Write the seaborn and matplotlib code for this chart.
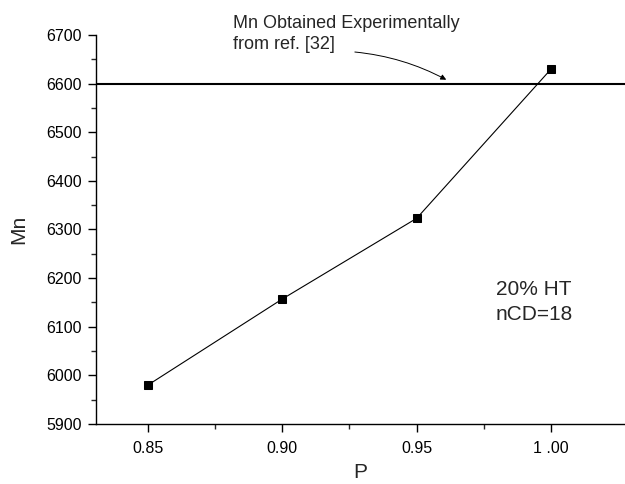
import matplotlib
matplotlib.use("Agg")
import matplotlib.pyplot as plt
import seaborn as sns
import pandas as pd
from matplotlib.ticker import FixedLocator, MultipleLocator

P = [0.85, 0.90, 0.95, 1.00]
Mn = [5980, 6157, 6323, 6630]
Mn_exp = 6600
x_ticks = [0.85, 0.90, 0.95, 1.00]
x_tick_labels = ["0.85", "0.90", "0.95", "1 .00"]
x_minor = [0.875, 0.925, 0.975]
y_ticks = [5900, 6000, 6100, 6200, 6300, 6400, 6500, 6600, 6700]

sns.set_style("ticks")
plt.rcParams['font.family'] = ['Liberation Sans', 'DejaVu Sans']

df = pd.DataFrame({"P": P, "Mn": Mn})
fig = plt.figure(figsize=(6.25, 4.84), dpi=100)
ax = fig.add_axes([0.1536, 0.124, 0.8464, 0.8037])
sns.lineplot(data=df, x="P", y="Mn", ax=ax, color="black", linewidth=0.8,
             marker="s", markersize=6, markeredgecolor="black", markerfacecolor="black")
ax.axhline(Mn_exp, color="black", linewidth=1.5)

ax.set_xlim(0.8307, 1.0275)
ax.set_ylim(5900, 6700)
ax.set_xticks(x_ticks)
ax.set_xticklabels(x_tick_labels)
ax.set_yticks(y_ticks)
ax.xaxis.set_minor_locator(FixedLocator(x_minor))
ax.yaxis.set_minor_locator(MultipleLocator(50))
ax.tick_params(axis="both", which="major", direction="out", length=6, width=1,
               labelsize=11.5, colors="black")
ax.tick_params(axis="y", which="major", pad=4)
ax.tick_params(axis="x", which="major", pad=6)
ax.tick_params(axis="both", which="minor", direction="out", length=3.6, width=1)
for s in ["top", "right"]:
    ax.spines[s].set_visible(False)
for s in ["left", "bottom"]:
    ax.spines[s].set_linewidth(1.0)
    ax.spines[s].set_color("black")

ax.set_xlabel("P", fontsize=15, labelpad=5)
ax.set_ylabel("Mn", fontsize=15, labelpad=13)

ax.text(0.8816, 6742, "Mn Obtained Experimentally\nfrom ref. [32]", fontsize=13,
        ha="left", va="top", linespacing=1.35, clip_on=False)
ax.annotate("", xy=(0.961, 6608), xytext=(0.927, 6665), annotation_clip=False,
            arrowprops=dict(arrowstyle="-|>", color="black", lw=0.7,
                            connectionstyle="arc3,rad=-0.1", shrinkA=0, shrinkB=0,
                            mutation_scale=8))
ax.text(0.9795, 6151, "20% HT\nnCD=18", fontsize=15, ha="left", va="center", linespacing=1.45)

fig.savefig("out.png", dpi=100)
